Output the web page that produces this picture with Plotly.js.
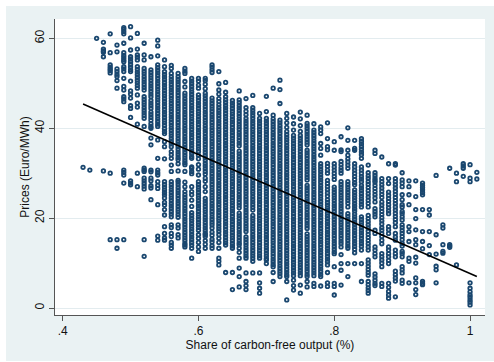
<!DOCTYPE html>
<html>
<head>
<meta charset="utf-8">
<script src="https://cdn.plot.ly/plotly-3.0.1.min.js"></script>
<style>
html,body{margin:0;padding:0;background:#ffffff;}
#chart{position:absolute;left:6px;top:6px;width:488px;height:355px;}
</style>
</head>
<body>
<div id="chart"></div>
<script>
// Share of carbon-free output (x levels of the columns)
const shareLevels = [0.43,0.44,0.45,0.46,0.47,0.48,0.49,0.50,0.51,0.52,0.53,0.54,0.55,0.56,0.57,0.58,0.59,0.60,0.61,0.62,0.63,0.64,0.65,0.66,0.67,0.68,0.69,0.70,0.71,0.72,0.73,0.74,0.75,0.76,0.77,0.78,0.79,0.80,0.81,0.82,0.83,0.84,0.85,0.86,0.87,0.88,0.89,0.90,0.91,0.92,0.93,0.94,0.95,0.96,0.97,0.98,0.99,1.00,1.01];

// Prices (Euro/MWh) observed at each share level
const p43 = [31.3];
const p44 = [30.7];
const p45 = [60.0];
const p46 = [59.1,57.6,57.2,56.9,55.9,30.5];
const p47 = [61.0,56.8,54.1,53.6,53.2,52.8,52.3,30.0,15.2];
const p48 = [58.5,57.0,53.2,52.6,52.0,51.5,50.6,48.9,15.2,13.3];
const p49 = [62.4,62.0,61.5,61.0,58.9,56.8,56.2,55.7,55.2,54.8,53.7,53.2,52.6,51.1,49.3,48.5,47.0,46.5,45.9,30.7,30.2,29.6,27.8,15.2];
const p50 = [62.6,60.1,57.4,55.9,55.4,54.8,54.2,53.6,53.0,52.6,50.5,48.3,47.6,46.7,45.0,44.4,42.4,28.3,27.8,27.4];
const p51 = [61.1,57.6,56.3,55.8,55.2,53.7,53.1,52.5,51.9,51.3,50.7,50.1,49.5,48.9,47.4,45.6,44.7,40.9,30.0,27.0];
const p52 = [58.9,56.3,55.2,53.3,52.7,52.1,51.5,50.9,50.3,49.7,49.1,48.5,47.0,46.4,45.8,45.2,44.6,44.0,43.4,42.8,42.2,40.4,31.1,30.7,30.4,28.9,28.3,27.7,27.1,26.5,15.2,11.5];
const p53 = [55.9,53.0,52.4,51.8,51.2,50.6,50.0,49.4,48.8,48.2,47.6,47.0,46.2,45.6,45.0,44.4,43.6,43.0,42.4,41.8,41.0,40.4,40.0,37.8,36.3,30.7,30.3,28.9,28.3,27.2,26.7,24.1];
const p54 = [59.6,58.3,56.1,54.1,53.5,52.9,52.3,51.7,51.1,50.5,49.9,49.3,48.7,48.1,47.5,46.9,46.3,45.7,45.1,44.5,43.9,43.3,42.7,42.1,41.5,40.9,40.4,37.4,33.3,30.7,30.1,29.6,28.1,27.3,26.6,23.0,16.0,15.1];
const p55 = [55.2,53.7,52.6,52.0,51.4,50.8,50.2,49.6,49.0,48.4,47.8,47.2,46.6,46.0,45.4,44.8,44.2,43.6,43.0,42.4,41.8,41.2,40.6,39.9,39.3,38.8,37.0,35.9,33.2,28.1,27.5,26.9,26.3,25.7,25.2,24.5,23.5,22.9,21.9,20.7,18.1,16.6,15.6,15.1];
const p56 = [54.0,53.3,52.2,51.5,50.9,50.3,49.7,49.1,48.5,47.9,47.3,46.7,46.1,45.5,44.9,44.3,43.7,43.1,42.5,41.9,41.3,40.7,40.1,39.5,38.9,38.3,37.7,37.1,36.5,35.9,34.8,34.1,33.3,31.8,30.4,28.1,27.5,26.9,26.3,25.7,25.1,24.5,23.9,23.3,22.7,22.1,21.5,20.9,20.3,18.5,17.9,16.6,15.9,14.6,14.0,13.3];
const p57 = [52.2,51.5,50.9,50.3,49.7,49.1,48.5,47.9,47.3,46.7,46.1,45.5,44.9,44.3,43.7,43.1,42.5,41.9,41.3,40.7,40.1,39.5,38.9,38.3,37.7,37.1,36.5,35.9,35.3,34.7,34.1,33.5,33.0,32.1,30.5,28.4,28.0,27.4,26.8,26.2,25.6,25.0,24.4,23.8,23.2,22.6,22.0,21.4,20.8,20.2,18.5,17.8,16.3,15.6];
const p58 = [53.3,52.7,52.2,50.4,49.2,47.8,47.2,46.6,46.0,45.4,44.8,44.2,43.6,43.0,42.4,41.8,41.2,40.6,40.0,39.4,38.8,38.2,37.6,37.0,36.4,35.8,35.2,34.6,34.0,33.4,32.8,32.3,31.9,30.4,28.0,27.0,25.9,25.2,24.6,24.0,23.4,22.8,22.2,21.6,21.0,20.4,19.8,19.2,18.6,18.0,17.4,16.8,16.2,15.6,15.0,14.4,14.0,13.6];
const p59 = [51.1,50.5,49.9,49.3,48.7,48.1,47.5,46.9,46.3,45.7,45.1,44.5,43.9,43.3,42.7,42.1,41.5,40.9,40.3,39.7,39.1,38.5,37.9,37.3,36.7,36.1,35.5,34.9,34.3,33.7,33.3,31.4,31.1,30.4,29.9,27.0,25.9,25.2,24.0,22.6,21.2,20.6,20.0,19.4,18.8,18.2,17.6,17.0,16.4,15.8,15.2,14.6,14.0,13.3,11.1];
const p60 = [51.1,50.5,49.6,48.9,47.4,46.8,46.2,45.6,45.0,44.4,43.8,43.2,42.6,42.0,41.4,40.8,40.2,39.6,39.0,38.4,37.8,37.2,36.6,36.0,35.4,34.8,34.0,33.2,31.9,30.9,29.6,28.1,27.5,26.9,26.3,25.7,25.1,24.5,23.9,23.3,22.7,22.1,21.5,20.9,20.3,19.7,19.1,18.5,17.9,17.3,16.3,15.5,14.6,13.6,12.6];
const p61 = [51.1,50.6,49.8,48.8,47.8,47.2,46.6,46.0,45.4,44.8,44.2,43.6,43.0,42.4,41.8,41.2,40.6,40.0,39.4,38.8,38.2,37.6,37.0,36.4,35.8,35.2,34.6,34.0,33.4,32.8,32.2,31.6,31.0,30.4,29.8,28.9,28.2,27.0,25.9,24.4,23.8,23.2,22.6,22.0,21.4,20.8,20.2,19.6,19.0,18.4,17.8,17.2,16.6,16.3,15.9,15.0,14.2,13.3];
const p62 = [54.1,53.6,53.0,52.4,46.7,46.1,45.5,44.9,44.3,43.7,43.1,42.5,41.9,41.3,40.7,40.1,39.5,38.9,38.3,37.7,37.1,36.5,35.9,35.3,34.7,34.1,33.5,32.9,32.3,31.7,31.1,30.5,29.9,29.3,28.7,28.1,27.5,26.9,26.3,25.7,25.1,24.5,23.9,23.3,22.7,22.1,21.5,20.9,20.3,19.7,19.1,18.5,17.8,16.9,16.2,15.3,14.7,13.9,13.3];
const p63 = [52.6,49.9,48.5,47.6,46.6,45.9,45.2,44.6,44.0,43.4,42.8,42.2,41.6,41.0,40.4,39.8,39.2,38.6,38.0,37.4,36.8,36.2,35.6,35.0,34.4,33.8,33.2,32.6,32.0,31.4,30.8,30.2,29.6,29.0,28.4,27.8,27.2,26.6,26.0,25.4,24.8,24.2,23.6,23.0,22.4,21.8,21.2,20.6,20.0,19.4,18.8,18.2,17.6,17.0,16.3,15.5,14.6,13.3,11.1,10.4,9.6];
const p64 = [50.2,48.0,47.0,46.3,45.7,45.1,44.5,43.9,43.3,42.7,42.1,41.5,40.9,40.3,39.7,39.1,38.5,37.9,37.3,36.7,36.1,35.5,34.9,34.3,33.7,33.1,32.5,31.9,31.3,30.7,30.1,29.5,28.9,28.3,27.7,27.1,26.5,25.9,25.3,24.7,24.1,23.5,22.9,22.3,21.7,21.1,20.5,19.9,19.3,18.7,18.1,17.5,16.9,16.3,15.7,15.1,14.5,14.0,7.9];
const p65 = [46.2,45.6,45.0,44.4,43.8,43.2,42.6,42.0,41.4,40.8,40.2,39.6,39.0,38.4,37.8,37.2,36.6,36.0,35.4,34.8,34.2,33.6,33.0,32.4,31.8,31.2,30.6,30.0,29.4,28.8,28.2,27.6,27.0,26.4,25.8,25.2,24.6,24.0,23.4,22.8,22.2,21.6,21.0,20.4,19.8,19.2,18.6,18.0,17.4,16.8,16.2,15.6,15.0,14.4,13.8,13.3,7.9,4.1];
const p66 = [48.3,46.3,45.7,45.1,44.5,43.9,43.3,42.7,42.1,41.5,40.9,40.3,39.7,39.1,38.5,37.9,37.3,36.7,36.1,34.9,34.3,33.7,33.1,32.5,31.9,31.3,30.7,30.1,29.5,28.9,28.3,27.7,27.1,26.5,25.9,25.3,24.7,24.1,23.5,22.9,22.3,21.1,20.5,19.9,19.3,18.7,18.1,17.5,16.9,16.3,15.7,15.1,14.5,14.1,13.3,12.4,11.1,8.9,7.0,4.7];
const p67 = [46.6,44.6,43.8,43.0,42.2,41.6,41.0,40.4,39.8,39.2,38.6,38.0,37.4,36.8,36.2,35.6,35.0,34.4,33.8,33.2,32.6,32.0,31.4,30.8,30.2,29.6,29.0,28.4,27.8,27.2,26.6,26.0,25.4,24.8,24.2,23.6,23.0,22.4,21.8,21.2,20.6,20.0,19.4,18.8,18.2,17.6,17.0,15.8,15.2,14.6,14.0,13.4,12.8,12.2,11.6,11.1,7.8,5.9,5.0,4.1];
const p68 = [47.3,44.6,44.0,43.4,42.8,42.2,41.6,41.0,40.4,39.8,39.2,38.6,38.0,37.4,36.8,36.2,35.6,35.0,34.4,33.8,33.2,32.6,32.0,31.4,30.8,30.2,29.6,29.0,28.4,27.8,27.2,26.6,26.0,25.4,24.8,24.2,23.6,23.0,22.4,21.8,20.6,20.0,19.4,18.8,18.2,17.6,17.0,16.4,15.8,15.2,14.6,14.0,13.4,12.8,12.2,11.6,11.0,10.4,7.8];
const p69 = [43.3,42.2,41.6,41.0,40.4,39.8,39.2,38.6,38.0,37.4,36.8,36.2,35.6,35.0,34.4,33.8,33.2,32.6,32.0,31.4,30.8,30.2,29.6,29.0,28.4,27.8,27.2,26.6,26.0,25.4,24.8,24.2,23.6,23.0,22.4,21.8,21.2,20.6,20.0,19.4,18.8,18.2,17.6,17.0,16.4,15.8,15.2,14.6,14.0,13.4,12.8,12.2,11.6,11.1,7.8,5.6,4.4,3.3];
const p70 = [47.1,43.7,42.2,41.6,41.0,40.4,39.8,39.2,38.6,38.0,37.4,36.8,36.2,35.6,35.0,34.4,33.8,33.2,32.6,32.0,31.4,30.8,30.2,29.6,29.0,28.4,27.8,27.2,26.6,26.0,25.4,24.8,24.2,23.6,23.0,22.4,21.8,21.2,20.6,20.0,19.4,18.8,18.2,17.6,17.0,16.4,15.8,15.2,14.6,14.0,13.4,12.8,12.2,11.6,11.0,10.7,9.9];
const p71 = [48.9,42.9,42.1,41.5,40.9,40.3,39.7,39.1,38.5,37.9,37.3,36.7,36.1,35.5,34.9,34.3,33.7,33.1,32.5,31.9,31.3,30.7,30.1,29.5,28.9,28.3,27.7,27.1,26.5,25.9,25.3,24.7,24.1,23.5,22.9,22.3,21.7,21.1,20.5,19.9,19.3,18.7,18.1,17.5,16.9,16.3,15.7,15.1,14.5,13.9,13.3,12.7,12.1,11.5,10.9,10.3,9.7,9.2,7.9,5.9];
const p72 = [50.7,48.6,45.5,41.8,41.2,40.6,40.0,39.4,38.8,38.2,37.6,37.0,36.4,35.8,35.2,34.6,34.0,33.4,32.8,32.2,31.6,31.0,30.4,29.8,29.2,28.6,28.0,27.4,26.8,26.2,25.6,25.0,24.4,23.8,23.2,22.6,22.0,21.4,20.8,20.2,19.6,19.0,18.4,17.8,17.2,16.6,16.0,15.4,14.8,14.2,13.6,13.0,12.4,11.8,11.2,10.6,10.0,9.4,8.8,8.2,7.6,7.0];
const p73 = [43.3,42.2,41.2,40.2,39.3,38.6,38.0,37.4,36.8,36.2,35.6,35.0,34.4,33.8,33.2,32.6,32.0,31.4,30.8,30.2,29.6,29.0,28.4,27.8,27.2,26.6,26.0,25.4,24.8,24.2,23.6,23.0,22.4,21.8,21.2,20.6,20.0,19.4,18.8,18.2,17.6,17.0,16.4,15.8,15.2,14.6,14.0,13.4,12.8,12.2,11.6,11.0,10.4,9.8,9.2,8.6,8.0,7.4,7.0,5.9,1.8];
const p74 = [42.5,41.0,39.6,38.4,37.8,37.2,36.6,36.0,35.4,34.8,34.2,33.6,33.0,32.4,31.8,31.2,30.6,30.0,29.4,28.8,28.2,27.6,27.0,26.4,25.8,25.2,24.6,24.0,23.4,22.8,22.2,21.6,21.0,20.4,19.8,19.2,18.6,18.0,17.4,16.8,16.2,15.6,15.0,14.4,13.8,13.2,12.6,12.0,11.4,10.8,10.2,9.6,9.0,8.4,7.8,7.2,6.2,5.0,4.0];
const p75 = [43.6,42.1,40.6,39.3,38.4,37.8,37.2,36.6,36.0,35.4,34.8,34.2,33.6,33.0,32.4,31.8,31.2,30.6,30.0,29.4,28.8,28.2,27.6,27.0,26.4,25.8,25.2,24.6,24.0,23.4,22.8,22.2,21.6,21.0,20.4,19.8,19.2,18.6,18.0,17.4,16.8,16.2,15.6,15.0,14.4,13.8,13.2,12.6,12.0,11.4,10.8,10.2,9.6,9.0,8.4,7.8,7.2,5.1,3.3];
const p76 = [42.9,41.1,40.5,39.9,39.3,38.7,38.1,37.5,36.9,36.3,35.1,34.5,33.9,33.3,32.7,32.1,31.5,30.9,30.3,29.7,29.1,28.5,27.3,26.7,26.1,25.5,24.9,24.3,23.7,23.1,22.5,21.9,21.3,20.7,20.1,19.5,18.9,18.3,17.7,16.5,15.9,15.3,14.7,14.1,13.5,12.9,12.3,11.7,11.1,10.5,9.9,9.3,8.7,8.1,7.5,7.0,5.9,4.7];
const p77 = [41.0,39.6,39.0,38.4,37.8,37.2,36.6,36.0,35.4,34.8,34.2,33.6,33.0,32.4,31.8,31.2,30.6,30.0,29.4,28.8,28.2,27.6,27.0,26.4,25.8,25.2,24.6,24.0,23.4,22.8,22.2,21.6,21.0,20.4,19.8,19.2,18.6,18.0,17.4,16.8,16.2,15.6,15.0,14.4,13.8,13.2,12.6,12.0,11.4,10.8,10.2,9.6,9.0,8.4,7.8,7.2,5.5,4.8];
const p78 = [40.3,39.6,38.8,36.6,35.5,34.0,32.1,31.5,30.9,30.3,29.7,29.1,28.5,27.9,27.3,26.7,26.1,25.5,24.9,24.3,23.7,23.1,22.5,21.9,21.3,20.7,20.1,19.5,18.9,18.3,17.7,17.1,16.5,15.9,15.3,14.7,14.1,13.5,12.9,12.3,11.7,11.1,10.5,9.9,9.3,8.7,8.1,7.5,7.0,4.9];
const p79 = [41.2,37.7,35.9,35.2,32.2,31.5,30.7,30.0,28.4,27.7,27.0,26.3,25.6,24.9,24.1,23.5,22.9,22.3,21.7,21.1,20.5,19.9,19.3,18.7,18.1,17.5,16.9,16.3,15.7,15.1,14.5,13.9,13.3,12.7,12.1,11.5,10.9,10.3,9.6,7.9,5.6,4.8];
const p80 = [37.0,35.1,32.1,31.4,30.7,30.0,29.3,28.6,26.9,26.3,25.7,25.1,24.5,23.9,23.3,22.7,22.1,21.5,20.9,20.3,19.7,19.1,18.5,17.9,17.3,16.7,16.1,15.5,14.9,14.3,13.7,13.1,12.5,12.1,9.2,5.5,4.8,2.9];
const p81 = [38.1,35.2,34.8,32.6,31.9,31.2,30.6,30.0,28.1,27.5,26.9,26.3,25.7,25.1,24.5,23.9,23.3,22.7,22.1,21.5,20.9,20.3,19.7,19.1,18.5,17.9,17.3,16.7,16.1,15.5,14.9,14.3,13.6,11.9,9.9,8.4,5.1];
const p82 = [40.1,37.3,35.1,34.0,33.2,32.5,31.8,31.1,28.1,27.5,26.9,26.3,25.7,25.1,24.5,23.9,23.3,22.5,21.0,20.4,19.8,19.2,18.6,18.0,17.4,16.8,16.2,15.6,15.0,14.4,13.8,13.3,9.9,7.0];
const p83 = [37.3,35.5,35.1,32.1,31.4,30.7,30.0,29.3,28.6,27.9,27.4,26.3,25.7,25.1,24.5,23.9,23.3,22.7,22.1,21.6,20.9,20.3,19.7,19.1,18.5,17.9,17.3,16.7,16.1,15.5,14.9,14.3,13.7,13.1,12.3,9.9];
const p84 = [37.7,37.1,36.5,35.9,35.3,34.7,34.1,33.3,31.4,30.7,30.0,29.3,28.7,28.1,27.3,26.7,26.1,25.5,24.9,24.3,23.7,23.1,22.5,20.3,19.7,19.1,18.5,17.9,17.3,16.7,16.1,15.5,14.9,14.3,13.7,12.9,9.9,5.9];
const p85 = [31.8,30.1,29.4,28.8,28.1,27.5,26.8,26.1,25.4,24.7,24.0,23.3,22.5,20.6,19.9,19.2,18.5,17.8,17.1,16.4,15.7,15.0,14.3,13.6,12.9,10.7,10.0,9.3,8.6,7.9,7.3,5.9,5.2,4.5,3.9,3.3];
const p86 = [35.1,34.4,30.1,29.5,28.9,28.4,28.0,27.3,26.6,25.9,25.2,24.5,23.6,22.1,21.5,20.9,20.3,17.3,16.6,13.6,12.9,12.1,11.4,7.6,6.9,6.2,5.5,5.0];
const p87 = [33.6,28.8,28.1,27.4,26.7,26.0,25.3,24.6,23.6,22.9,22.2,21.5,20.8,20.1,19.4,18.7,17.9,17.3,16.6,15.9,15.1,14.3,12.1,11.4,10.7,10.0,9.2,5.5,4.8];
const p88 = [32.1,28.8,27.7,25.8,25.1,24.4,23.7,23.0,22.3,21.6,21.0,18.1,17.4,16.6,13.6,12.9,12.1,11.4,10.6,9.9,5.5,4.6,3.7,2.9,2.2];
const p89 = [32.1,31.8,28.8,28.1,27.4,26.7,26.0,25.3,24.6,23.9,23.2,22.5,21.8,21.1,20.4,19.7,19.0,18.1,16.6,15.8,15.1,12.9,12.1,11.4,8.2,7.4,6.7,6.0,2.5];
const p90 = [30.1,28.5,27.8,27.0,25.2,24.1,23.0,22.5,21.5,21.0,20.3,19.6,18.5,17.9,17.2,16.6,15.9,15.2,14.4,13.8,12.6,12.1,11.4,9.2,8.5,7.8,6.2,5.5];
const p91 = [28.3,27.0,25.2,23.0,18.1,17.0,14.8,11.1,10.4,5.6];
const p92 = [28.3,24.8,21.9,19.9,17.4,15.2,14.1,11.3,10.0,6.7,5.6,4.1,3.0];
const p93 = [27.8,27.3,26.8,26.3,25.7,25.2,21.9,17.0,14.8,13.2,5.9,5.5,5.2];
const p94 = [21.9,20.7,17.0,13.9,11.9];
const p95 = [29.5,16.3,12.0,9.3,8.5,5.6];
const p96 = [18.5,17.8,14.1,12.6,12.2];
const p97 = [31.1,14.1,13.8,13.5];
const p98 = [30.0,28.1,9.6];
const p99 = [32.1,31.6,31.1,29.3];
const p100 = [31.9,28.9,28.1,5.6,4.4,3.6,2.9,2.4,1.8,1.3,0.7];
const p101 = [30.2,28.7];

const priceColumns = [p43,p44,p45,p46,p47,p48,p49,p50,p51,p52,p53,p54,p55,p56,p57,p58,p59,p60,p61,p62,p63,p64,p65,p66,p67,p68,p69,p70,p71,p72,p73,p74,p75,p76,p77,p78,p79,p80,p81,p82,p83,p84,p85,p86,p87,p88,p89,p90,p91,p92,p93,p94,p95,p96,p97,p98,p99,p100,p101];

// Linear fit
const fitShare = [0.43, 1.01];
const fitPrice = [45.4, 7.0];

// Axis ticks
const xTickVals = [0.4, 0.6, 0.8, 1];
const xTickText = ['.4', '.6', '.8', '1'];
const yTickVals = [0, 20, 40, 60];

const sx = [], sy = [];
shareLevels.forEach((s, i) => {
  priceColumns[i].forEach(p => { sx.push(s); sy.push(p); });
});

const navy = '#1a476f';
const font = 'Liberation Sans, Arial, sans-serif';

const traces = [
  {
    type: 'scatter', mode: 'markers', x: sx, y: sy,
    marker: {symbol: 'circle-open', size: 3.5, color: navy, line: {width: 1.8, color: navy}},
    hoverinfo: 'skip', showlegend: false
  },
  {
    type: 'scatter', mode: 'lines', x: fitShare, y: fitPrice,
    line: {color: '#000000', width: 1.6}, hoverinfo: 'skip', showlegend: false
  }
];

const layout = {
  width: 488, height: 355,
  margin: {l: 49, r: 9, t: 13, b: 46, pad: 0},
  paper_bgcolor: '#EAF2F3',
  plot_bgcolor: '#FFFFFF',
  showlegend: false,
  font: {family: font, color: '#111111', size: 12},
  xaxis: {
    range: [0.3887, 1.022],
    tickvals: xTickVals, ticktext: xTickText,
    ticks: 'outside', ticklen: 5, tickwidth: 1, tickcolor: '#555555',
    showline: true, linecolor: '#555555', linewidth: 1,
    showgrid: false, zeroline: false,
    tickfont: {family: font, size: 12, color: '#111111'},
    title: {text: 'Share of carbon-free output (%)', font: {family: font, size: 12, color: '#111111'}, standoff: 0},
    automargin: false
  },
  yaxis: {
    range: [-1.55, 64.3],
    tickvals: yTickVals,
    tickangle: -90,
    ticks: 'outside', ticklen: 5, tickwidth: 1, tickcolor: '#555555',
    showline: true, linecolor: '#555555', linewidth: 1,
    showgrid: true, gridcolor: '#E3ECEF', gridwidth: 1, zeroline: false,
    tickfont: {family: font, size: 12, color: '#111111'},
    title: {text: 'Prices (Euro/MWh)', font: {family: font, size: 12, color: '#111111'}, standoff: 1},
    automargin: false
  }
};

Plotly.newPlot('chart', traces, layout, {staticPlot: true, displayModeBar: false});
</script>
</body>
</html>
